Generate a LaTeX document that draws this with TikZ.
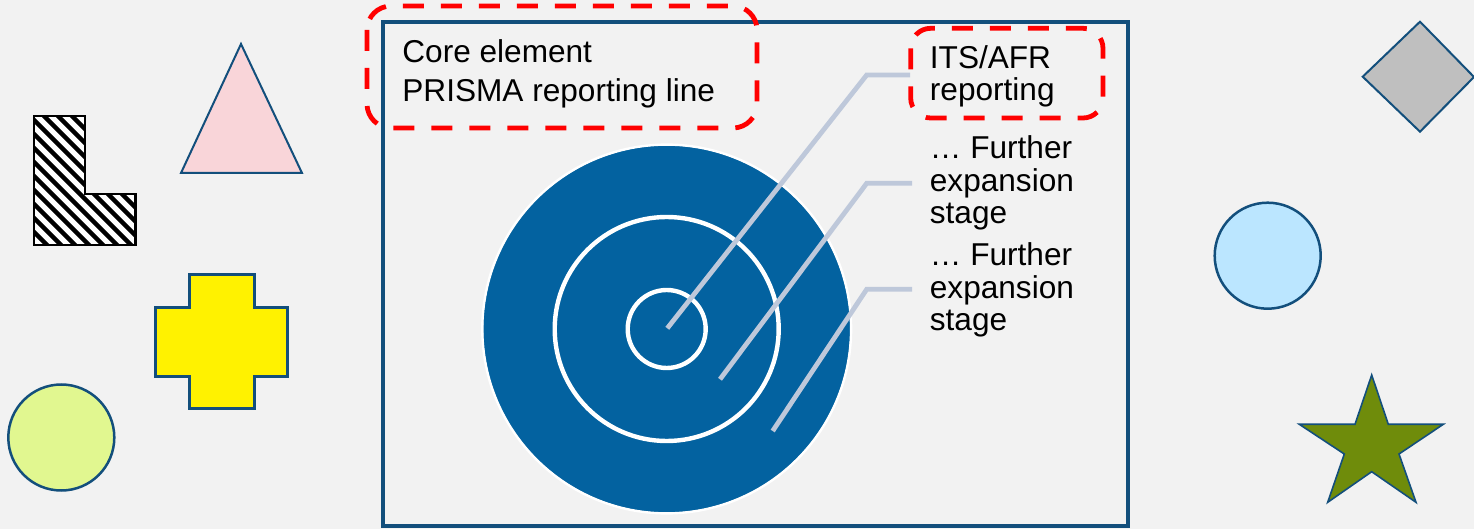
\documentclass[tikz,border=0pt]{standalone}
\usepackage{fontspec}
\setmainfont{Liberation Sans}
\definecolor{bgcolor}{HTML}{F2F2F2}
\definecolor{edgeblue}{HTML}{134F7C}
\definecolor{targetblue}{HTML}{0362A0}
\definecolor{leadergray}{HTML}{BEC8DA}
\definecolor{pinkfill}{HTML}{F9D5D9}
\definecolor{limefill}{HTML}{E1F790}
\definecolor{skyfill}{HTML}{BBE6FF}
\definecolor{grayfill}{HTML}{BFBFBF}
\definecolor{olivefill}{HTML}{6F8C0B}
\newcommand{\lblockpath}{(34,116) -- (85,116) -- (85,194) -- (135.5,194)
       -- (135.5,245) -- (34,245) -- cycle}
\begin{document}
\begin{tikzpicture}[x=0.5pt,y=-0.5pt,
  outline/.style={draw=edgeblue, line width=1pt, line join=miter},
  redbox/.style={draw=red, line width=2.4pt, dash pattern=on 10.5pt off 8.5pt, rounded corners=#1},
  leader/.style={draw=leadergray, line width=2.4pt},
  ring/.style={draw=white, line width=2.2pt},
  lbl/.style={anchor=base west, inner sep=0pt},
  bigfont/.style={font=\fontsize{15.8}{19.5}\selectfont},
  sidefont/.style={font=\fontsize{15.8}{16.15}\selectfont}
]
% canvas
\fill[bgcolor] (0,0) rectangle (1474,529);
\useasboundingbox (0,0) rectangle (1474,529);

% hatched L block
\fill[white] \lblockpath;
\begin{scope}
  \clip \lblockpath;
  \foreach \c in {-140,-126,...,150}
    \draw[black, line width=2.25pt] (\c,100) -- ++(170,170);
\end{scope}
\draw[black, line width=1.2pt] \lblockpath;

% left-hand shapes
\draw[outline, fill=pinkfill] (241,44) -- (302,173) -- (181,173) -- cycle;
\draw[outline, line width=1.5pt, fill=yellow] (189,275) -- (254,275) -- (254,308)
     -- (287,308) -- (287,377) -- (254,377) -- (254,409) -- (189,409) -- (189,377)
     -- (155,377) -- (155,308) -- (189,308) -- cycle;
\draw[outline, line width=1.25pt, fill=limefill] (61.3,437.5) circle[radius=26.5pt];

% right-hand shapes
\draw[outline, fill=grayfill] (1420,21.7) -- (1474,77) -- (1420,131.7) -- (1362.7,76.7) -- cycle;
\draw[outline, line width=1.25pt, fill=skyfill] (1267.7,255.7) circle[radius=26.5pt];
\draw[outline, line width=0.8pt, fill=olivefill] (1371.7,375) -- (1388.3,424.3) -- (1443.3,424.3)
     -- (1399,454) -- (1416,502.3) -- (1371.7,471.7) -- (1327.7,502.3) -- (1344.3,454)
     -- (1299.3,424.3) -- (1355,424.3) -- cycle;

% main frame
\draw[edgeblue, line width=2pt] (383.3,21.7) rectangle (1128,526);

% target
\coordinate (centre) at (666.7,329);
\fill[targetblue] (centre) circle[radius=91.75pt];
\draw[white, line width=1.2pt] (centre) circle[radius=92.2pt];
\draw[ring] (centre) circle[radius=56pt];
\draw[ring] (centre) circle[radius=19.5pt];

% labels
\node[lbl, bigfont] (core) at (402,63)
  {\begin{tabular}[t]{@{}l@{}}Core element\\PRISMA reporting line\end{tabular}};
\node[lbl, sidefont] (its) at (929.5,68.3)
  {\begin{tabular}[t]{@{}l@{}}ITS/AFR\\reporting\end{tabular}};
\node[lbl, sidefont] (stageA) at (929.5,159)
  {\begin{tabular}[t]{@{}l@{}}\ldots{} Further\\expansion\\stage\end{tabular}};
\node[lbl, sidefont] (stageB) at (929.5,266)
  {\begin{tabular}[t]{@{}l@{}}\ldots{} Further\\expansion\\stage\end{tabular}};

% leader lines from the rings to the labels
\coordinate (t1) at (667.3,328.3);
\coordinate (k1) at (866.7,75);
\coordinate (e1) at (910,75);
\coordinate (t2) at (720,379.3);
\coordinate (k2) at (866.7,183.3);
\coordinate (e2) at (912,183.3);
\coordinate (t3) at (772.7,431);
\coordinate (k3) at (866.7,289.3);
\coordinate (e3) at (912,289.3);
\draw[leader] (t1) -- (k1) -- (e1);
\draw[leader] (t2) -- (k2) -- (e2);
\draw[leader] (t3) -- (k3) -- (e3);

% dashed highlight frames
\draw[redbox=12pt] (367,6) rectangle (757,128);
\draw[redbox=10pt] (910.7,28.3) rectangle (1103,118);
\end{tikzpicture}
\end{document}
